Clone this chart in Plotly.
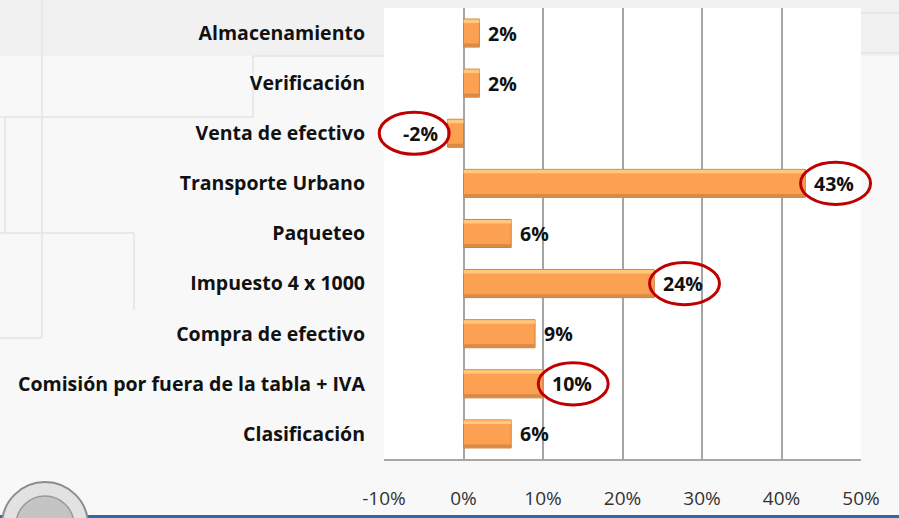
import plotly.graph_objects as go

# datos
categorias = ["Almacenamiento", "Verificación", "Venta de efectivo", "Transporte Urbano",
              "Paqueteo", "Impuesto 4 x 1000", "Compra de efectivo",
              "Comisión por fuera de la tabla + IVA", "Clasificación"]
variacion = [2, 2, -2, 43, 6, 24, 9, 10, 6]
resaltados = ["Venta de efectivo", "Transporte Urbano", "Impuesto 4 x 1000",
              "Comisión por fuera de la tabla + IVA"]
ticks_x = [-10, 0, 10, 20, 30, 40, 50]

W, H = 899, 518
L, R, T, B = 384, 38, 8, 59
pw, ph = W - L - R, H - T - B
xmin, xmax = -10, 50
n = len(categorias)


def px(x, y):
    # pixel de la figura -> coordenadas paper
    return (x - L) / pw, (H - B - y) / ph


fig = go.Figure()

# barra principal
ancho = 0.56
fig.add_trace(go.Bar(
    y=categorias, x=variacion, orientation="h",
    width=ancho, offset=-ancho / 2,
    marker=dict(color="#FBA151", line=dict(color="#C98340", width=1)),
    hoverinfo="x+y",
))
# brillo superior y sombra inferior (efecto degradado)
fig.add_trace(go.Bar(
    y=categorias, x=variacion, orientation="h",
    width=0.07, offset=-ancho / 2 + 0.01,
    marker=dict(color="#FFC87C", line_width=0), hoverinfo="skip",
))
fig.add_trace(go.Bar(
    y=categorias, x=variacion, orientation="h",
    width=0.06, offset=ancho / 2 - 0.07,
    marker=dict(color="#D98A45", line_width=0), hoverinfo="skip",
))

# etiquetas de valor
for c, v in zip(categorias, variacion):
    fig.add_annotation(
        x=v, y=c, xref="x", yref="y",
        text=f"{v}%", showarrow=False,
        xanchor="left" if v >= 0 else "right",
        xshift=7 if v >= 0 else -8,
        font=dict(family="Open Sans", size=19.5, color="#111111", weight="bold"),
    )

shapes = []

# fondo de la diapositiva
for xa_px, xb_px in [(0, L), (L + pw, W)]:
    x0, y0 = px(xa_px, 0)
    x1, y1 = px(xb_px, 56)
    shapes.append(dict(type="rect", xref="paper", yref="paper", x0=x0, y0=y0, x1=x1, y1=y1,
                       fillcolor="#F1F1F1", line_width=0, layer="below"))
x0, y0 = px(L, 0)
x1, y1 = px(L + pw, T)
shapes.append(dict(type="rect", xref="paper", yref="paper", x0=x0, y0=y0, x1=x1, y1=y1,
                   fillcolor="#F1F1F1", line_width=0, layer="below"))
lineas = [(42, 0, 42, 338), (0, 338, 42, 338), (253, 56, 384, 56), (253, 56, 253, 117),
          (0, 117, 253, 117), (5, 117, 5, 233), (0, 233, 134, 233), (134, 233, 134, 310),
          (861, 13, 899, 13), (861, 53, 899, 53)]
for a, b, c, d in lineas:
    xa, ya = px(a, b)
    xb, yb = px(c, d)
    shapes.append(dict(type="line", xref="paper", yref="paper", x0=xa, y0=ya, x1=xb, y1=yb,
                       line=dict(color="#E4E4E4", width=1.5), layer="below"))

# linea azul inferior
xa, ya = px(0, 515)
xb, yb = px(W, H)
shapes.append(dict(type="rect", xref="paper", yref="paper", x0=xa, y0=ya, x1=xb, y1=yb,
                   fillcolor="#2A6CA8", line_width=0))

# logo (aprox.)
xa, ya = px(2, 482)
xb, yb = px(88, 568)
shapes.append(dict(type="circle", xref="paper", yref="paper", x0=xa, y0=ya, x1=xb, y1=yb,
                   fillcolor="#E2E2E2", line=dict(color="#8C8C8C", width=2)))
xa, ya = px(16, 496)
xb, yb = px(74, 554)
shapes.append(dict(type="circle", xref="paper", yref="paper", x0=xa, y0=ya, x1=xb, y1=yb,
                   fillcolor="#C4C4C4", line=dict(color="#9A9A9A", width=1.5)))

# elipses rojas alrededor de las etiquetas (en coordenadas paper para no recortarlas)
for i, (c, v) in enumerate(zip(categorias, variacion)):
    if c in resaltados:
        cx = v + (3.8 if v > 0 else -4.2)
        cy = 1 - (i + 0.5) / n
        hx, hy = 4.4, 0.42
        shapes.append(dict(type="circle", xref="paper", yref="paper",
                           x0=(cx - hx - xmin) / (xmax - xmin), x1=(cx + hx - xmin) / (xmax - xmin),
                           y0=cy - hy / n, y1=cy + hy / n,
                           line=dict(color="#C00000", width=3)))

fig.update_layout(
    width=W, height=H,
    margin=dict(l=L, r=R, t=T, b=B),
    paper_bgcolor="#F8F8F8",
    plot_bgcolor="white",
    showlegend=False,
    barmode="overlay",
    shapes=shapes,
    xaxis=dict(
        range=[xmin, xmax],
        tickvals=ticks_x,
        ticktext=[f"{t}%" for t in ticks_x],
        showgrid=True, gridcolor="#A6A6A6", gridwidth=1.5,
        zeroline=True, zerolinecolor="#A6A6A6", zerolinewidth=1.5,
        showline=True, linecolor="#A6A6A6", linewidth=1.5,
        ticklabelstandoff=21,
        tickfont=dict(family="Open Sans", size=19, color="#333333"),
        automargin=False,
    ),
    yaxis=dict(
        categoryorder="array", categoryarray=categorias,
        range=[n - 0.5, -0.5],
        showgrid=False,
        ticklabelstandoff=18,
        tickfont=dict(family="Open Sans", size=19.5, color="#111111", weight="bold"),
        automargin=False,
    ),
)

fig.write_html(
    "out.html", config={"displayModeBar": False},
    post_script=("document.body.style.margin='0';"
                 "document.body.style.overflow='hidden';"
                 "document.documentElement.style.overflow='hidden';"
                 "window.scrollTo(0,0);"),
)
